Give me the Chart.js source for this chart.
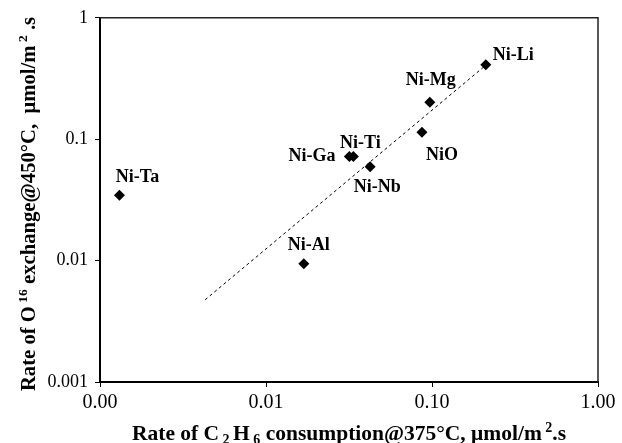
<!DOCTYPE html>
<html>
<head>
    <meta charset='utf-8'>
    <title>O16 exchange vs C2H6 consumption</title>
    <style>
        body { margin: 0; background: #fff; }
    </style>
</head>
<body>
    <canvas id="myChart" width="622" height="443"></canvas>

    <script src="https://cdn.jsdelivr.net/npm/chart.js"></script>
    <script>
// catalysts and measured rates
const catalysts = ['Ni-Li', 'Ni-Mg', 'NiO', 'Ni-Ga', 'Ni-Ti', 'Ni-Nb', 'Ni-Ta', 'Ni-Al'];
const c2h6Rate = [0.211, 0.097, 0.087, 0.0318, 0.0336, 0.0424, 0.00131, 0.0169];
const o16Rate = [0.41, 0.202, 0.114, 0.072, 0.072, 0.0593, 0.0346, 0.0094];

// dotted trend line ends
const trendX = [0.0043, 0.206];
const trendY = [0.00476, 0.396];

const xTickValues = [0.001, 0.01, 0.1, 1];
const xTickLabels = ['0.00', '0.01', '0.10', '1.00'];
const yTickValues = [0.001, 0.01, 0.1, 1];
const yTickLabels = ['0.001', '0.01', '0.1', '1'];

// where each name sits next to its diamond
const labelPos = {
    'Ni-Li': [7, -9, 'left'],
    'Ni-Mg': [1, -22, 'center'],
    'NiO':   [20, 23, 'center'],
    'Ni-Ga': [-14, 0, 'right'],
    'Ni-Ti': [7, -13, 'center'],
    'Ni-Nb': [7, 21, 'center'],
    'Ni-Ta': [18, -18, 'center'],
    'Ni-Al': [5, -19, 'center']
};

const serif = '"Liberation Serif", "Times New Roman", serif';

const pointLabels = {
    id: 'pointLabels',
    afterDatasetsDraw(chart) {
        const ctx = chart.ctx;
        const meta = chart.getDatasetMeta(0);
        ctx.save();
        ctx.font = 'bold 18px ' + serif;
        ctx.fillStyle = '#000';
        ctx.textBaseline = 'middle';
        meta.data.forEach((pt, i) => {
            const p = labelPos[catalysts[i]];
            ctx.textAlign = p[2];
            ctx.fillText(catalysts[i], pt.x + p[0], pt.y + p[1]);
        });
        ctx.restore();
    }
};

// top and right edges of the plot box
const frame = {
    id: 'frame',
    beforeDatasetsDraw(chart) {
        const a = chart.chartArea;
        const ctx = chart.ctx;
        ctx.save();
        ctx.strokeStyle = '#222';
        ctx.lineWidth = 1.5;
        ctx.beginPath();
        ctx.moveTo(a.left, a.top);
        ctx.lineTo(a.right, a.top);
        ctx.lineTo(a.right, a.bottom);
        ctx.stroke();
        ctx.restore();
    }
};

// axis titles with sub/superscripts: [text, font size, baseline shift]
function drawRich(ctx, parts, cx, cy) {
    let total = 0;
    parts.forEach(p => { ctx.font = 'bold ' + p[1] + 'px ' + serif; total += ctx.measureText(p[0]).width; });
    let x = cx - total / 2;
    ctx.textAlign = 'left';
    ctx.textBaseline = 'alphabetic';
    parts.forEach(p => {
        ctx.font = 'bold ' + p[1] + 'px ' + serif;
        ctx.fillText(p[0], x, cy + 7 + p[2]);
        x += ctx.measureText(p[0]).width;
    });
}

const axisTitles = {
    id: 'axisTitles',
    afterDraw(chart) {
        const ctx = chart.ctx;
        const a = chart.chartArea;
        ctx.save();
        ctx.fillStyle = '#000';
        drawRich(ctx, [['Rate of C', 21.5, 0], [' 2 ', 14, 4], ['H', 21.5, 0], [' 6', 14, 4],
            [' consumption@375°C, μmol/m', 21.5, 0], [' 2', 14, -8], ['.s', 21.5, 0]],
            (a.left + a.right) / 2, 433);
        ctx.translate(28, 204);
        ctx.rotate(-Math.PI / 2);
        drawRich(ctx, [['Rate of O', 20.7, 0], [' 16', 13.5, -8], [' exchange@450°C,  μmol/m', 20.7, 0],
            [' 2', 13.5, -8], [' .s', 20.7, 0]], 0, 0);
        ctx.restore();
    }
};

new Chart(document.getElementById('myChart'), {
    type: 'scatter',
    data: {
        datasets: [
            {
                data: catalysts.map((c, i) => ({ x: c2h6Rate[i], y: o16Rate[i] })),
                pointStyle: 'rectRot',
                pointRadius: 5.5,
                backgroundColor: '#000',
                borderColor: '#000',
                borderWidth: 0
            },
            {
                type: 'line',
                data: trendX.map((x, i) => ({ x: x, y: trendY[i] })),
                borderColor: '#000',
                borderWidth: 1,
                borderDash: [3, 3],
                pointRadius: 0,
                fill: false
            }
        ]
    },
    options: {
        responsive: false,
        animation: false,
        devicePixelRatio: 1,
        layout: { padding: { left: 0, top: 16, right: 24, bottom: 0 } },
        plugins: { legend: { display: false }, tooltip: { enabled: false } },
        scales: {
            x: {
                type: 'logarithmic',
                min: 0.001,
                max: 1,
                afterBuildTicks: s => { s.ticks = xTickValues.map(v => ({ value: v })); },
                afterFit: s => { s.height = 61; },
                ticks: {
                    font: { family: serif, size: 20 },
                    color: '#000',
                    padding: 4,
                    maxRotation: 0,
                    autoSkip: false,
                    callback: (v, i) => xTickLabels[i]
                },
                grid: { drawOnChartArea: false, tickLength: 5, tickColor: '#000', tickWidth: 1 },
                border: { color: '#000', width: 2 }
            },
            y: {
                type: 'logarithmic',
                min: 0.001,
                max: 1,
                afterBuildTicks: s => { s.ticks = yTickValues.map(v => ({ value: v })); },
                afterFit: s => { s.width = 100; },
                ticks: {
                    font: { family: serif, size: 18 },
                    color: '#000',
                    padding: 7,
                    autoSkip: false,
                    callback: (v, i) => yTickLabels[i]
                },
                grid: { drawOnChartArea: false, tickLength: 5, tickColor: '#000', tickWidth: 1 },
                border: { color: '#000', width: 2 }
            }
        }
    },
    plugins: [frame, pointLabels, axisTitles]
});
    </script>
</body>
</html>
